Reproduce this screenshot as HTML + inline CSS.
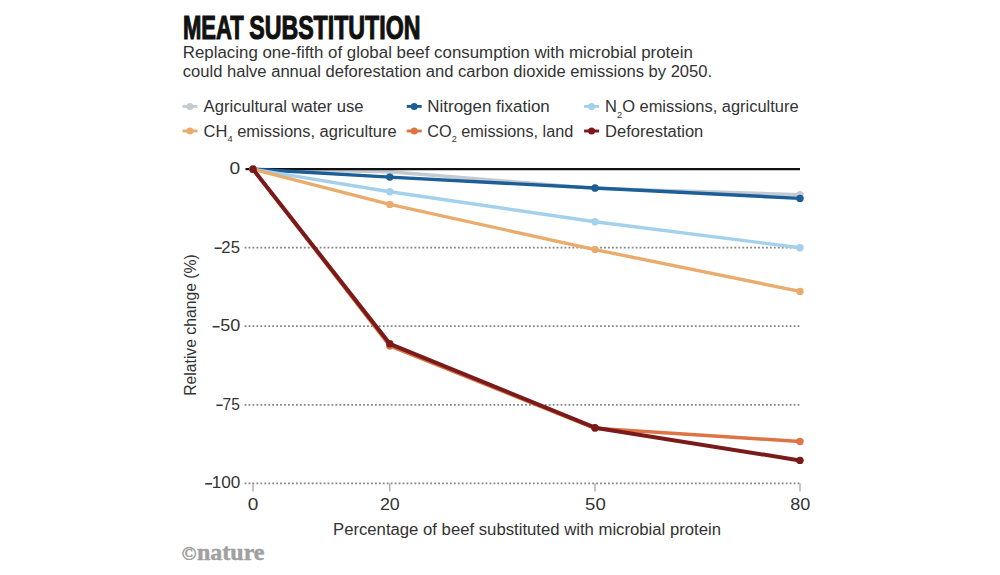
<!DOCTYPE html>
<html><head><meta charset="utf-8">
<style>
html,body{margin:0;padding:0;background:#fff;}
body{width:1000px;height:575px;position:relative;overflow:hidden;font-family:"Liberation Sans",sans-serif;}
svg{position:absolute;left:0;top:0;font-family:"Liberation Sans",sans-serif;}
</style></head><body>
<svg width="1000" height="575" viewBox="0 0 1000 575">
<text x="183.0" y="38.5" font-size="32.3" textLength="60.8" lengthAdjust="spacingAndGlyphs" font-weight="bold" fill="#111" stroke="#111" stroke-width="1.1">MEAT</text>
<text x="249.2" y="38.5" font-size="32.3" textLength="171.3" lengthAdjust="spacingAndGlyphs" font-weight="bold" fill="#111" stroke="#111" stroke-width="1.1">SUBSTITUTION</text>
<text x="182.8" y="57.8" font-size="16" textLength="510" lengthAdjust="spacingAndGlyphs" fill="#333">Replacing one-fifth of global beef consumption with microbial protein</text>
<text x="182.8" y="76.8" font-size="16" textLength="529.3" lengthAdjust="spacingAndGlyphs" fill="#333">could halve annual deforestation and carbon dioxide emissions by 2050.</text>
<line x1="182.5" y1="106.4" x2="197.5" y2="106.4" stroke="#c4cad2" stroke-width="2.9"/><circle cx="190.0" cy="106.4" r="3.5" fill="#c4cad2"/>
<text x="203.6" y="112.2" font-size="16" textLength="160" lengthAdjust="spacingAndGlyphs" fill="#333">Agricultural water use</text>
<line x1="406.7" y1="106.4" x2="421.7" y2="106.4" stroke="#1b5e98" stroke-width="2.9"/><circle cx="414.2" cy="106.4" r="3.5" fill="#1b5e98"/>
<text x="427.3" y="112.2" font-size="16" textLength="122.5" lengthAdjust="spacingAndGlyphs" fill="#333">Nitrogen fixation</text>
<line x1="584.1" y1="106.4" x2="599.1" y2="106.4" stroke="#a3d0ea" stroke-width="2.9"/><circle cx="591.6" cy="106.4" r="3.5" fill="#a3d0ea"/>
<text x="605.1" y="112.2" font-size="16" textLength="193.5" lengthAdjust="spacingAndGlyphs" fill="#333">N<tspan font-size="9" dy="5.5">2</tspan><tspan dy="-5.5">O emissions, agriculture</tspan></text>
<line x1="182.5" y1="131.0" x2="197.5" y2="131.0" stroke="#e9ac6c" stroke-width="2.9"/><circle cx="190.0" cy="131.0" r="3.5" fill="#e9ac6c"/>
<text x="203.6" y="136.7" font-size="16" textLength="193" lengthAdjust="spacingAndGlyphs" fill="#333">CH<tspan font-size="9" dy="5.5">4</tspan><tspan dy="-5.5"> emissions, agriculture</tspan></text>
<line x1="406.7" y1="131.0" x2="421.7" y2="131.0" stroke="#dd7444" stroke-width="2.9"/><circle cx="414.2" cy="131.0" r="3.5" fill="#dd7444"/>
<text x="427.3" y="136.7" font-size="16" textLength="146" lengthAdjust="spacingAndGlyphs" fill="#333">CO<tspan font-size="9" dy="5.5">2</tspan><tspan dy="-5.5"> emissions, land</tspan></text>
<line x1="584.1" y1="131.0" x2="599.1" y2="131.0" stroke="#7b1a1a" stroke-width="2.9"/><circle cx="591.6" cy="131.0" r="3.5" fill="#7b1a1a"/>
<text x="605.1" y="136.7" font-size="16" textLength="98.2" lengthAdjust="spacingAndGlyphs" fill="#333">Deforestation</text>
<line x1="244.6" y1="247.7" x2="801" y2="247.7" stroke="#858585" stroke-width="1.8" stroke-dasharray="1.8 2.15"/>
<line x1="244.6" y1="326.2" x2="801" y2="326.2" stroke="#858585" stroke-width="1.8" stroke-dasharray="1.8 2.15"/>
<line x1="244.6" y1="404.8" x2="801" y2="404.8" stroke="#858585" stroke-width="1.8" stroke-dasharray="1.8 2.15"/>
<line x1="244.6" y1="483.3" x2="801" y2="483.3" stroke="#858585" stroke-width="1.8" stroke-dasharray="1.8 2.15"/>
<line x1="253.0" y1="483.3" x2="253.0" y2="491.6" stroke="#999" stroke-width="1.1"/>
<line x1="389.8" y1="483.3" x2="389.8" y2="491.6" stroke="#999" stroke-width="1.1"/>
<line x1="595.0" y1="483.3" x2="595.0" y2="491.6" stroke="#999" stroke-width="1.1"/>
<line x1="800.0" y1="483.3" x2="800.0" y2="491.6" stroke="#999" stroke-width="1.1"/>
<polyline points="253.0,169.2 389.8,171.7 595.0,188.4 800.0,194.6" fill="none" stroke="#c4cad2" stroke-width="3.4" stroke-linejoin="round"/>
<circle cx="253.0" cy="169.2" r="3.7" fill="#c4cad2"/>
<circle cx="389.8" cy="171.7" r="3.7" fill="#c4cad2"/>
<circle cx="595.0" cy="188.4" r="3.7" fill="#c4cad2"/>
<circle cx="800.0" cy="194.6" r="3.7" fill="#c4cad2"/>
<line x1="245.5" y1="169.2" x2="800" y2="169.2" stroke="#111" stroke-width="2.2"/>
<polyline points="253.0,169.2 389.8,177.1 595.0,188.0 800.0,198.4" fill="none" stroke="#1b5e98" stroke-width="3.4" stroke-linejoin="round"/>
<circle cx="253.0" cy="169.2" r="3.7" fill="#1b5e98"/>
<circle cx="389.8" cy="177.1" r="3.7" fill="#1b5e98"/>
<circle cx="595.0" cy="188.0" r="3.7" fill="#1b5e98"/>
<circle cx="800.0" cy="198.4" r="3.7" fill="#1b5e98"/>
<polyline points="253.0,169.2 389.8,191.8 595.0,221.7 800.0,247.7" fill="none" stroke="#a3d0ea" stroke-width="3.4" stroke-linejoin="round"/>
<circle cx="253.0" cy="169.2" r="3.7" fill="#a3d0ea"/>
<circle cx="389.8" cy="191.8" r="3.7" fill="#a3d0ea"/>
<circle cx="595.0" cy="221.7" r="3.7" fill="#a3d0ea"/>
<circle cx="800.0" cy="247.7" r="3.7" fill="#a3d0ea"/>
<polyline points="253.0,169.2 389.8,204.4 595.0,249.6 800.0,291.4" fill="none" stroke="#e9ac6c" stroke-width="3.4" stroke-linejoin="round"/>
<circle cx="253.0" cy="169.2" r="3.7" fill="#e9ac6c"/>
<circle cx="389.8" cy="204.4" r="3.7" fill="#e9ac6c"/>
<circle cx="595.0" cy="249.6" r="3.7" fill="#e9ac6c"/>
<circle cx="800.0" cy="291.4" r="3.7" fill="#e9ac6c"/>
<polyline points="253.0,169.2 389.8,346.0 595.0,428.3 800.0,441.5" fill="none" stroke="#dd7444" stroke-width="3.4" stroke-linejoin="round"/>
<circle cx="253.0" cy="169.2" r="3.7" fill="#dd7444"/>
<circle cx="389.8" cy="346.0" r="3.7" fill="#dd7444"/>
<circle cx="595.0" cy="428.3" r="3.7" fill="#dd7444"/>
<circle cx="800.0" cy="441.5" r="3.7" fill="#dd7444"/>
<polyline points="253.0,169.2 389.8,343.8 595.0,427.7 800.0,460.4" fill="none" stroke="#7b1a1a" stroke-width="4.0" stroke-linejoin="round"/>
<circle cx="253.0" cy="169.2" r="3.7" fill="#7b1a1a"/>
<circle cx="389.8" cy="343.8" r="3.7" fill="#7b1a1a"/>
<circle cx="595.0" cy="427.7" r="3.7" fill="#7b1a1a"/>
<circle cx="800.0" cy="460.4" r="3.7" fill="#7b1a1a"/>
<text x="229.45" y="174.0" font-size="15.6" textLength="10.7" lengthAdjust="spacingAndGlyphs" fill="#333">0</text>
<rect x="214.6" y="247.42" width="7.20" height="1.6" fill="#3a3a3a"/>
<text x="221.36" y="252.53" font-size="16" textLength="18.54" lengthAdjust="spacingAndGlyphs" fill="#333">25</text>
<rect x="212.6" y="325.95" width="7.00" height="1.6" fill="#3a3a3a"/>
<text x="220.28" y="331.05" font-size="16" textLength="20.02" lengthAdjust="spacingAndGlyphs" fill="#333">50</text>
<rect x="216.4" y="404.47" width="6.30" height="1.6" fill="#3a3a3a"/>
<text x="222.61" y="409.57" font-size="16" textLength="17.25" lengthAdjust="spacingAndGlyphs" fill="#333">75</text>
<rect x="205.2" y="483.00" width="7.00" height="1.6" fill="#3a3a3a"/>
<text x="211.7" y="488.1" font-size="16" textLength="28.57" lengthAdjust="spacingAndGlyphs" fill="#333">100</text>
<text x="247.76" y="509.8" font-size="16" textLength="10.59" lengthAdjust="spacingAndGlyphs" fill="#333">0</text>
<text x="379.91" y="509.8" font-size="16" textLength="19.79" lengthAdjust="spacingAndGlyphs" fill="#333">20</text>
<text x="585.06" y="509.8" font-size="16" textLength="20.67" lengthAdjust="spacingAndGlyphs" fill="#333">50</text>
<text x="790.22" y="509.8" font-size="16" textLength="19.98" lengthAdjust="spacingAndGlyphs" fill="#333">80</text>
<text x="333" y="534.5" font-size="16" textLength="388" lengthAdjust="spacingAndGlyphs" fill="#333">Percentage of beef substituted with microbial protein</text>
<text x="0" y="0" font-size="16" fill="#333" textLength="141.5" lengthAdjust="spacingAndGlyphs" transform="translate(196.4,395.8) rotate(-90)">Relative change (%)</text>
<text x="181.8" y="560.4" font-size="19.5" font-family="Liberation Serif" fill="#a0a0a0" stroke="#a0a0a0" stroke-width="0.6">&#169;</text>
<text x="197.0" y="560" font-size="24" textLength="67.5" lengthAdjust="spacingAndGlyphs" font-weight="bold" font-family="Liberation Serif" fill="#a0a0a0" stroke="#a0a0a0" stroke-width="0.5">nature</text>
</svg>
</body></html>
